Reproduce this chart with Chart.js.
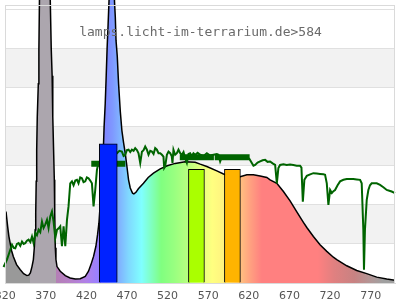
<!DOCTYPE html>
<html>
<head>
<meta charset="utf-8">
<script src="https://cdn.jsdelivr.net/npm/chart.js@4/dist/chart.umd.min.js"></script>
<style>
html, body { margin: 0; padding: 0; background: #fff; }
#wrap { width: 400px; height: 300px; }
</style>
</head>
<body>
<div id="wrap"><canvas id="spektrum"></canvas></div>
<script>
// Lampenspektrum (schwarze Kurve, Regenbogen-Fuellung)
const specNm = [321, 323, 324.5, 326, 328, 330, 334, 338.6, 342.7, 346.8, 349, 351, 353, 354.7, 356, 357, 357.6, 358.2, 358.8, 359.5,
  360.8, 361.5, 362.2, 364, 368, 372, 375.5, 376.7, 377.8, 378.6, 379.6, 380.5, 381, 381.7, 382.5, 383.8, 387.8, 394, 400, 406.3,
  412.4, 418.6, 422.6, 425.6, 428.8, 431.7, 433.7, 435.4, 437, 439, 441, 441.8, 443.2, 444.4, 445.5, 446.7, 448, 450, 451.5, 453,
  454.6, 455.6, 456.5, 458, 459.6, 461.7, 463.7, 465.7, 467.8, 469.9, 471.9, 474, 476.8, 478.5, 481, 484, 490.3, 496.1, 502.6, 510.9,
  519.5, 529.3, 541.6, 553.9, 560.1, 568.3, 580.6, 588.8, 597, 609.3, 617.6, 625.7, 633.9, 642.2, 646.2, 654.5, 662.6, 670.8, 679.1, 687.2,
  691.4, 699.5, 707.7, 716, 724.1, 728.3, 740.6, 752.9, 765.2, 777.5, 789.8, 800];
const specVal = [1.83, 1.45, 1.2, 1.03, 0.82, 0.68, 0.47, 0.34, 0.24, 0.19, 0.2, 0.26, 0.42, 0.6, 0.94, 1.36, 1.8, 2.6, 3.4, 4.25,
  5.1, 5.96, 7.24, 9, 11, 9.5, 7.24, 6, 5.3, 4.25, 3.4, 2.64, 1.8, 0.9, 0.6, 0.42, 0.3, 0.19, 0.13, 0.1,
  0.11, 0.17, 0.3, 0.47, 0.68, 0.94, 1.23, 1.53, 2, 2.7, 3.5, 4, 4.6, 5.3, 6, 6.6, 7.3, 9.5, 11, 9.5,
  7.2, 6.8, 6.2, 5.8, 5.1, 4.4, 3.9, 3.6, 3.32, 2.98, 2.64, 2.43, 2.3, 2.28, 2.32, 2.41, 2.55, 2.7, 2.81, 2.92,
  3, 3.06, 3.1, 3.09, 3.04, 2.98, 2.87, 2.79, 2.74, 2.72, 2.77, 2.77, 2.74, 2.7, 2.64, 2.55, 2.34, 2.1, 1.82, 1.55,
  1.42, 1.19, 0.98, 0.81, 0.66, 0.6, 0.44, 0.32, 0.24, 0.15, 0.1, 0.07];

// Sonnenspektrum (gruene Linie)
const sunNm = [314, 318, 322.2, 326.3, 328.4, 330.4, 332.4, 334.5, 336.5, 338.6, 340.7, 342.7, 344.7, 346.8, 348.8, 351, 353, 355, 357.1, 359.1,
  361.1, 363.2, 365.3, 367.3, 369.4, 371.5, 373.4, 375.5, 377.6, 379.6, 381.7, 383.8, 385.8, 387.8, 389.9, 391.9, 394, 396.1, 398, 400.1,
  402.2, 404.2, 406.3, 408.4, 410.3, 412.4, 414.5, 416.5, 418.6, 420.6, 422.6, 424.7, 426.8, 428.8, 430.9, 433, 434.9, 445, 457.6, 460.6,
  463.7, 465.8, 467.8, 469.9, 471.9, 474, 476, 478.1, 480.1, 482.2, 484.2, 486.3, 488.4, 490.4, 492.4, 494.5, 496.5, 498.6, 500.7, 502.7,
  504.7, 506.8, 508.8, 510.9, 513, 514.9, 515.8, 517, 519.1, 521.1, 523.2, 525, 526, 527.2, 529.3, 531.4, 533.4, 535.5, 537.6, 539.6,
  541.6, 543.7, 545.7, 547.8, 549.8, 551.8, 553.9, 557, 560.1, 564.2, 568.3, 572.4, 576.5, 580.6, 582.6, 584.7, 586.7, 588.7, 592.9, 597,
  603.1, 609.3, 613.4, 617.6, 620.6, 623.7, 625.7, 627.8, 630.8, 633.9, 637, 640.1, 643.1, 646.2, 649.3, 652.4, 654.5, 656.4, 658.5, 662.6,
  666.7, 670.8, 674.8, 679, 683.1, 684.8, 686.5, 688.4, 691.4, 695.5, 699.5, 703.6, 707.7, 711.8, 713.9, 716, 718, 720.1, 722.2, 724.2,
  726.2, 729.3, 732.4, 736.5, 740.6, 744.7, 748.7, 752.9, 757, 759, 761, 761.8, 763, 765.2, 767.2, 769.2, 771.3, 777.5, 781.6, 785.7,
  789.8, 793, 795.9, 800, 806.2];
const sunVal = [0.26, 0.41, 0.6, 0.85, 0.98, 0.9, 0.89, 1, 1.02, 0.95, 1.06, 1, 1.02, 1.08, 1.11, 1.05, 1.19, 1.02, 1.28, 1.22,
  1.36, 1.3, 1.57, 1.41, 1.5, 1.62, 1.41, 1.7, 1.83, 1.57, 1.15, 1.36, 1.4, 1.45, 0.94, 1.45, 0.94, 1.62, 1.96, 2.55,
  2.6, 2.5, 2.62, 2.64, 2.55, 2.7, 2.68, 2.58, 2.6, 2.7, 2.68, 2.62, 2.55, 1.96, 2.38, 2.9, 3.07, 3.25, 3.32, 3.38,
  3.36, 3.25, 3.28, 3.4, 3.41, 3.35, 3.41, 3.38, 3.45, 3.4, 3.32, 3.07, 3.36, 3.4, 3.49, 3.41, 3.28, 3.38, 3.36, 3.3,
  3.45, 3.41, 3.32, 3.32, 3.28, 3.23, 2.94, 2.98, 3.28, 3.36, 3.32, 3.25, 3.07, 3.41, 3.28, 3.32, 3.41, 3.32, 3.28, 3.35,
  3.19, 3.07, 3.3, 3.32, 3.25, 3.32, 3.28, 3.33, 3.28, 3.25, 3.32, 3.26, 3.28, 3.3, 3.28, 3.11, 3.22, 3.19, 3.25, 3.23,
  3.2, 3.23, 3.2, 3.21, 3.18, 3.07, 3, 3.02, 3.08, 3.11, 3.14, 3.15, 3.1, 3.11, 3.06, 3.02, 2.55, 2.94, 3.02, 3.04,
  3.02, 3.03, 3.02, 3, 3, 2.95, 2.08, 2.64, 2.74, 2.78, 2.81, 2.8, 2.79, 2.78, 2.77, 2.55, 2, 2.38, 2.3, 2.35,
  2.38, 2.5, 2.6, 2.64, 2.66, 2.66, 2.66, 2.65, 2.64, 2.55, 1.36, 0.34, 1.36, 2.13, 2.38, 2.5, 2.55, 2.55, 2.51, 2.45,
  2.38, 2.36, 2.34, 2.3, 2.26];

// Balken (LED-Kanaele)
const barNm = [446.9, 555.5, 599.8];
const barVal = [3.56, 2.91, 2.91];
const barColor = ['#0022ff', '#aaff00', '#ffb400'];

// dunkelgruene Mittelwert-Striche
const avgFrom = [426, 535, 578];
const avgTo = [468, 577, 621];
const avgVal = [3.05, 3.22, 3.22];

// Achsen
const tickNm = [320, 370, 420, 470, 520, 570, 620, 670, 720, 770];
const gridVal = [0, 1, 2, 3, 4, 5, 6, 7];

// Farbverlauf der Fuellung
const fillNm = [321, 351, 351, 382, 382, 400, 420, 434, 445, 452, 460, 472, 488, 500, 512, 528, 545, 560, 575, 592,
  610, 622, 636, 705, 725, 750, 772, 785, 800];
const fillColor = ['#999999', '#999999', '#aca6ae', '#aca6ae', '#b47fb4', '#b680c8', '#b080e8', '#9a80ff', '#7f8aff', '#7f98ff',
  '#80b0ff', '#80d8ff', '#80ffff', '#80ffc0', '#80ff80', '#98ff80', '#b8ff80', '#e0ff80', '#ffff80', '#fff080',
  '#ffc080', '#ffa080', '#ff8080', '#ff8080', '#e08080', '#c88282', '#b09898', '#a0a0a0', '#a0a0a0'];

function rainbow(context) {
  const chart = context.chart;
  const xs = chart.scales.x;
  if (!chart.chartArea || !xs) return '#ccc';
  const g = chart.ctx.createLinearGradient(xs.left, 0, xs.right, 0);
  const w = xs.right - xs.left;
  for (let i = 0; i < fillNm.length; i++) {
    let p = (xs.getPixelForValue(fillNm[i]) - xs.left) / w;
    p = Math.min(1, Math.max(0, p));
    g.addColorStop(p, fillColor[i]);
  }
  return g;
}

const avgData = [];
for (let i = 0; i < avgFrom.length; i++) {
  avgData.push({x: avgFrom[i], y: avgVal[i]}, {x: avgTo[i], y: avgVal[i]}, {x: avgTo[i] + 0.5, y: null});
}

// Hintergrund-Streifen
const bandPlugin = {
  id: 'bands',
  beforeDraw(chart) {
    const {ctx, chartArea: a, scales: {y}} = chart;
    ctx.save();
    ctx.fillStyle = '#fff';
    ctx.fillRect(0, 0, chart.width, chart.height);
    ctx.fillStyle = '#f2f2f2';
    for (let i = 1; i < gridVal.length - 1; i += 2) {
      const t = y.getPixelForValue(gridVal[i + 1]);
      const b = y.getPixelForValue(gridVal[i]);
      ctx.fillRect(a.left, t, a.right - a.left, b - t);
    }
    ctx.restore();
  }
};

// Rahmen und Beschriftung
const framePlugin = {
  id: 'frame',
  afterDatasetsDraw(chart) {
    const {ctx, chartArea: a} = chart;
    ctx.save();
    ctx.strokeStyle = '#dadada';
    ctx.lineWidth = 1;
    ctx.strokeRect(Math.round(a.left) - 0.5, Math.round(a.top) + 5.5, Math.round(a.right - a.left), Math.round(a.bottom - a.top) - 5);
    ctx.restore();
  },
  afterDraw(chart) {
    const {ctx, chartArea: a} = chart;
    ctx.save();
    ctx.fillStyle = '#6a6a6a';
    ctx.font = '13px "DejaVu Sans Mono"';
    ctx.textAlign = 'center';
    ctx.textBaseline = 'alphabetic';
    ctx.fillText('lamps.licht-im-terrarium.de>584', (a.left + a.right) / 2, 36);
    ctx.restore();
  }
};

const config = {
  type: 'line',
  data: {
    datasets: [{
      type: 'bar',
      data: [{x: barNm[0], y: barVal[0]}],
      backgroundColor: barColor[0],
      borderColor: '#000',
      borderWidth: 1,
      barThickness: 18,
      grouped: false
    }, {
      type: 'bar',
      data: [{x: barNm[1], y: barVal[1]}, {x: barNm[2], y: barVal[2]}],
      backgroundColor: [barColor[1], barColor[2]],
      borderColor: '#000',
      borderWidth: 1,
      barThickness: 16,
      grouped: false
    }, {
      data: avgData,
      borderColor: '#006400',
      borderWidth: 6,
      borderCapStyle: 'butt',
      pointRadius: 0,
      spanGaps: false,
      fill: false
    }, {
      data: sunNm.map((v, i) => ({x: v, y: sunVal[i]})),
      borderColor: '#006400',
      borderWidth: 2,
      pointRadius: 0,
      fill: false,
      clip: false
    }, {
      data: specNm.map((v, i) => ({x: v, y: specVal[i]})),
      borderColor: '#000',
      borderWidth: 1.5,
      pointRadius: 0,
      fill: 'origin',
      backgroundColor: rainbow
    }]
  },
  options: {
    responsive: true,
    maintainAspectRatio: false,
    animation: false,
    events: [],
    layout: { padding: { left: 6, right: 5, top: 0, bottom: 0 } },
    plugins: { legend: { display: false }, tooltip: { enabled: false } },
    scales: {
      x: {
        type: 'linear',
        min: 321,
        max: 800,
        offset: false,
        afterBuildTicks: s => { s.ticks = tickNm.map(v => ({value: v})); },
        afterFit: s => { s.paddingLeft = 0; s.paddingRight = 0; s.height = 17; },
        grid: { display: false, drawTicks: false, offset: false },
        border: { display: true, color: '#dadada' },
        ticks: {
          autoSkip: false,
          maxRotation: 0,
          padding: 7,
          color: '#555',
          font: { family: 'DejaVu Sans', size: 11 }
        }
      },
      y: {
        min: 0,
        max: 7.24,
        afterBuildTicks: s => { s.ticks = gridVal.map(v => ({value: v})); },
        ticks: { display: false },
        grid: { color: '#e0e0e0', drawTicks: false },
        border: { display: false }
      }
    }
  },
  plugins: [bandPlugin, framePlugin]
};

new Chart(document.getElementById('spektrum'), config);
</script>
</body>
</html>
